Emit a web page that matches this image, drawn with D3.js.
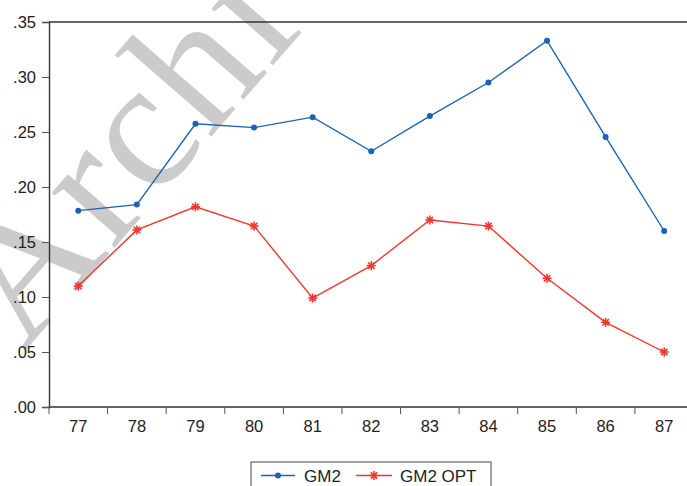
<!DOCTYPE html>
<html>
<head>
<meta charset="utf-8">
<script src="https://cdn.jsdelivr.net/npm/d3@7"></script>
<style>
  body { margin: 0; background: #fff; }
  svg { display: block; font-family: "Liberation Sans", Arial, sans-serif; }
</style>
</head>
<body>
<script>
// data
let years = ['77', '78', '79', '80', '81', '82', '83', '84', '85', '86', '87']
let gm2 = [0.1785, 0.184, 0.2575, 0.254, 0.2635, 0.2325, 0.2645, 0.295, 0.333, 0.2455, 0.16]
let gm2Opt = [0.110, 0.161, 0.182, 0.1645, 0.099, 0.1285, 0.170, 0.1645, 0.117, 0.077, 0.050]
let yTicks = [0, 0.05, 0.10, 0.15, 0.20, 0.25, 0.30, 0.35]
let seriesNames = ['GM2', 'GM2 OPT']

let width = 687
let height = 486
let plotLeft = 49, plotTop = 22, plotBottom = 407, plotRight = 693.5

let svg = d3.select('body').append('svg')
  .attr('width', width)
  .attr('height', height)

let x = d3.scaleBand().domain(years).range([plotLeft, plotRight])
let y = d3.scaleLinear().domain([0, 0.35]).range([plotBottom, plotTop])

// watermark behind everything (cut off by the edges, as in the scan)
svg.append('text')
  .attr('transform', 'translate(24,352) rotate(-49)')
  .attr('font-family', '"Liberation Serif", "Times New Roman", serif')
  .attr('font-size', 182)
  .attr('letter-spacing', 3)
  .attr('fill', '#cbcbcb')
  .text('Archive')

// frame: top line
svg.append('line')
  .attr('x1', plotLeft).attr('x2', width)
  .attr('y1', plotTop).attr('y2', plotTop)
  .attr('stroke', '#333').attr('stroke-width', 1.6)

// y axis
let yAxis = svg.append('g')
  .attr('transform', 'translate(' + plotLeft + ',0)')
  .call(d3.axisLeft(y).tickValues(yTicks).tickSize(7).tickPadding(6)
    .tickFormat(d => d3.format('.2f')(d).replace(/^0/, '')))
yAxis.select('.domain').attr('stroke', '#333').attr('stroke-width', 1.4)
yAxis.selectAll('.tick line').attr('stroke', '#555')
yAxis.selectAll('text').attr('font-size', 16.5).attr('fill', '#222')

// x axis: labels at band centres, ticks at band edges
let xAxis = svg.append('g')
  .attr('transform', 'translate(0,' + plotBottom + ')')
  .call(d3.axisBottom(x).tickSize(0).tickPadding(13))
xAxis.select('.domain').remove()
xAxis.selectAll('text').attr('font-size', 16.5).attr('fill', '#222')

svg.append('line')
  .attr('x1', plotLeft).attr('x2', width)
  .attr('y1', plotBottom).attr('y2', plotBottom)
  .attr('stroke', '#333').attr('stroke-width', 1.4)

svg.append('g').selectAll('line')
  .data(years)
  .enter()
  .append('line')
  .attr('x1', d => x(d)).attr('x2', d => x(d))
  .attr('y1', plotBottom).attr('y2', plotBottom + 7)
  .attr('stroke', '#555')

let blue = '#1b63b3'
let red = '#f2362c'

let line = d3.line()
  .x((d, i) => x(years[i]) + x.bandwidth() / 2)
  .y(d => y(d))

svg.append('path')
  .datum(gm2)
  .attr('d', line)
  .attr('fill', 'none')
  .attr('stroke', blue)
  .attr('stroke-width', 1.4)

svg.append('g').selectAll('circle')
  .data(gm2)
  .enter()
  .append('circle')
  .attr('cx', (d, i) => x(years[i]) + x.bandwidth() / 2)
  .attr('cy', d => y(d))
  .attr('r', 3)
  .attr('fill', blue)

svg.append('path')
  .datum(gm2Opt)
  .attr('d', line)
  .attr('fill', 'none')
  .attr('stroke', red)
  .attr('stroke-width', 1.4)

function star(g, cx, cy, r, color) {
  let spokes = [0, 45, 90, 135]
  spokes.forEach(a => {
    let rad = a * Math.PI / 180
    g.append('line')
      .attr('x1', cx - r * Math.cos(rad)).attr('y1', cy - r * Math.sin(rad))
      .attr('x2', cx + r * Math.cos(rad)).attr('y2', cy + r * Math.sin(rad))
      .attr('stroke', color).attr('stroke-width', 1.6)
  })
}

let stars = svg.append('g')
gm2Opt.forEach((v, i) => star(stars, x(years[i]) + x.bandwidth() / 2, y(v), 4.5, red))

// legend
let legend = svg.append('g')
legend.append('rect')
  .attr('x', 251).attr('y', 462)
  .attr('width', 240).attr('height', 40)
  .attr('fill', '#fff')
  .attr('stroke', '#444').attr('stroke-width', 1)

legend.append('line')
  .attr('x1', 261).attr('x2', 295).attr('y1', 475.5).attr('y2', 475.5)
  .attr('stroke', blue).attr('stroke-width', 1.4)
legend.append('circle')
  .attr('cx', 278).attr('cy', 475.5).attr('r', 3).attr('fill', blue)
legend.append('text')
  .attr('x', 304).attr('y', 482)
  .attr('font-size', 17).attr('fill', '#222')
  .text(seriesNames[0])

legend.append('line')
  .attr('x1', 356).attr('x2', 392).attr('y1', 475.5).attr('y2', 475.5)
  .attr('stroke', red).attr('stroke-width', 1.4)
star(legend, 374, 475.5, 4.5, red)
legend.append('text')
  .attr('x', 400).attr('y', 482)
  .attr('font-size', 17).attr('fill', '#222')
  .text(seriesNames[1])
</script>
</body>
</html>
